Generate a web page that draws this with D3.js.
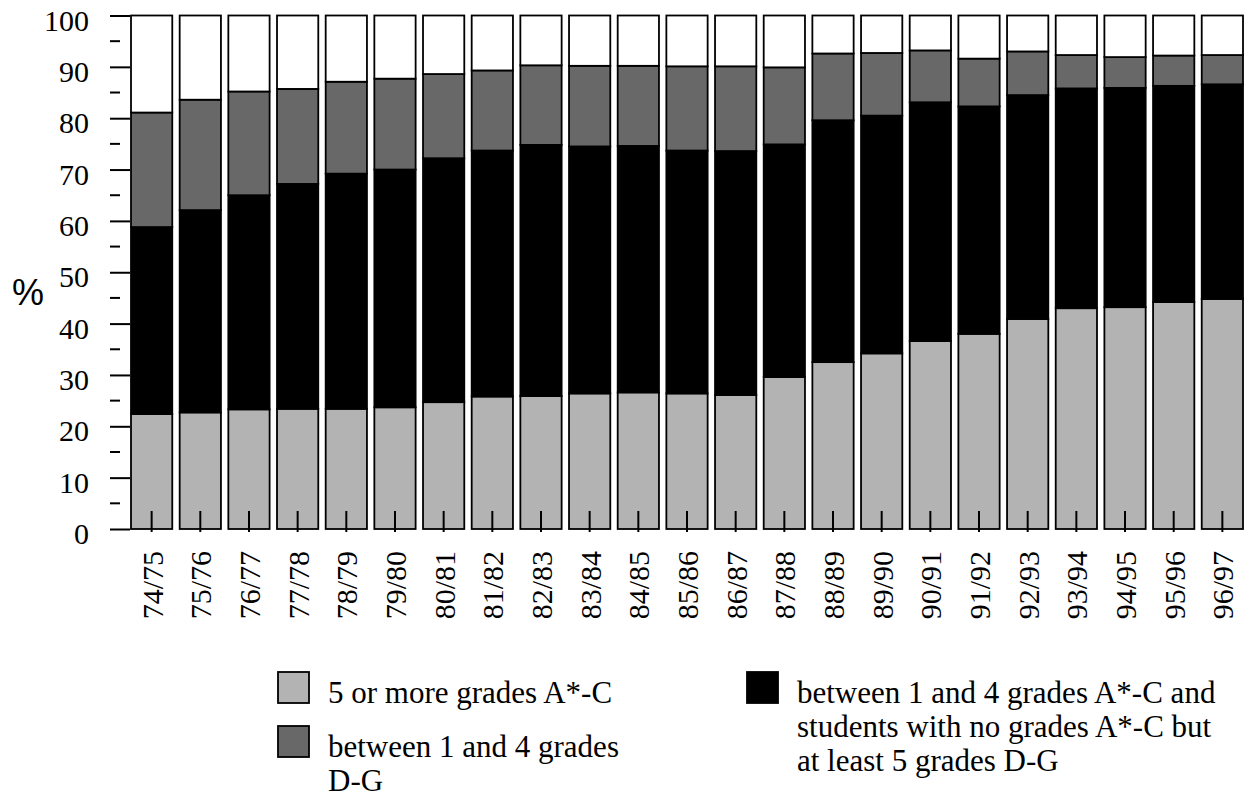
<!DOCTYPE html>
<html>
<head>
  <meta charset="utf-8">
  <script src="https://cdn.jsdelivr.net/npm/d3@7"></script>
  <style>
    @font-face {
      font-family: "ChartSerif";
      src: local("Liberation Serif"), local("LiberationSerif"), local("LiberationSerif-Regular"),
        local("Liberation Serif Regular"), local("Tinos"), local("Times New Roman");
    }
  </style>
</head>
<body style="margin:0">
  <svg id="chart" width="1247" height="797"></svg>
  <script>

  // school years
  const years = ["74/75", "75/76", "76/77", "77/78", "78/79", "79/80", "80/81", "81/82",
    "82/83", "83/84", "84/85", "85/86", "86/87", "87/88", "88/89", "89/90", "90/91",
    "91/92", "92/93", "93/94", "94/95", "95/96", "96/97"];

  // % of students (bottom to top)
  const fiveOrMoreAC = [22.4, 22.7, 23.3, 23.4, 23.4, 23.7, 24.7, 25.8, 25.9, 26.4, 26.6, 26.4,
    26.1, 29.6, 32.5, 34.2, 36.6, 38.0, 40.9, 43.0, 43.2, 44.2, 44.8];
  const oneToFourACorFiveDG = [36.4, 39.4, 41.7, 43.8, 45.8, 46.3, 47.5, 47.9, 48.9, 48.1, 48.0, 47.3,
    47.5, 45.3, 47.1, 46.3, 46.5, 44.3, 43.6, 42.8, 42.7, 42.1, 41.8];
  const oneToFourDG = [22.3, 21.5, 20.2, 18.5, 17.9, 17.7, 16.4, 15.6, 15.5, 15.7, 15.6, 16.4,
    16.5, 15.0, 13.0, 12.2, 10.1, 9.3, 8.5, 6.5, 6.0, 5.9, 5.7];
  const others = [18.9, 16.4, 14.8, 14.3, 12.9, 12.3, 11.4, 10.7, 9.7, 9.8, 9.8, 9.9,
    9.9, 10.1, 7.4, 7.3, 6.8, 8.4, 7.0, 7.7, 8.1, 7.8, 7.7];

  const keys = ["fiveAC", "mixed", "dg", "rest"];
  const colours = {fiveAC: "#b3b3b3", mixed: "#000000", dg: "#686868", rest: "#ffffff"};

  const yTicks = [0, 10, 20, 30, 40, 50, 60, 70, 80, 90, 100];
  const yMinorTicks = [5, 15, 25, 35, 45, 55, 65, 75, 85, 95];

  const legendItems = [
    {key: "fiveAC", lines: ["5 or more grades A*-C"]},
    {key: "dg", lines: ["between 1 and 4 grades", "D-G"]},
    {key: "mixed", lines: ["between 1 and 4 grades A*-C and",
      "students with no grades A*-C but", "at least 5 grades D-G"]}
  ];

  const rows = years.map((yr, i) => ({
    year: yr,
    fiveAC: fiveOrMoreAC[i],
    mixed: oneToFourACorFiveDG[i],
    dg: oneToFourDG[i],
    rest: others[i]
  }));

  const serif = () => `"Liberation Serif", ChartSerif, cursive`;

  const svg = d3.select("#chart");

  const x = d3.scaleBand().domain(years).range([131, 1243]).paddingInner(0.152).paddingOuter(0);
  const y = d3.scaleLinear().domain([0, 100]).range([529, 15.5]);

  const series = d3.stack().keys(keys)(rows);

  // bars
  svg.append("g").selectAll("g")
    .data(series)
    .join("g")
      .attr("fill", (s) => colours[s.key])
    .selectAll("rect")
    .data((s) => s)
    .join("rect")
      .attr("x", (d) => x(d.data.year))
      .attr("y", (d) => y(Math.min(d[1], 100)))
      .attr("width", x.bandwidth())
      .attr("height", (d) => y(d[0]) - y(Math.min(d[1], 100)))
      .attr("stroke", "#000")
      .attr("stroke-width", 1.8);

  // y axis ticks (labels drawn below, straight on the svg)
  const yAxis = svg.append("g")
    .attr("transform", "translate(130,0)")
    .call(d3.axisLeft(y).tickValues(yTicks).tickSize(20).tickFormat(""));
  yAxis.select(".domain").remove();
  yAxis.selectAll("line").attr("stroke-width", 2);

  svg.selectAll("text.ylab")
    .data(yTicks)
    .join("text")
      .attr("class", "ylab")
      .attr("x", 89)
      .attr("y", (d) => y(d) + 15)
      .attr("text-anchor", "end")
      .style("font-family", serif)
      .style("font-size", "30px")
      .text((d) => d);

  svg.append("g").selectAll("line")
    .data(yMinorTicks)
    .join("line")
      .attr("x1", 110).attr("x2", 120)
      .attr("y1", (d) => y(d)).attr("y2", (d) => y(d))
      .attr("stroke", "#000")
      .attr("stroke-width", 2);

  // x axis ticks reach up into the bars
  const xAxis = svg.append("g")
    .attr("transform", `translate(0,${y(0) + 3})`)
    .call(d3.axisBottom(x).tickSize(-21).tickSizeOuter(0).tickFormat(""));
  xAxis.select(".domain").remove();
  xAxis.selectAll("line").attr("stroke-width", 2);

  svg.selectAll("text.xlab")
    .data(years)
    .join("text")
      .attr("class", "xlab")
      .attr("transform", (d) => `translate(${x(d) + x.bandwidth() / 2 + 11},551) rotate(-90)`)
      .attr("text-anchor", "end")
      .style("font-family", serif)
      .style("font-size", "30px")
      .text((d) => d);

  svg.append("text")
    .attr("x", 12)
    .attr("y", 305)
    .style("font-family", () => `"Liberation Sans", cursive`)
    .style("font-size", "36px")
    .text("%");

  // legend
  const legendPos = [
    {x: 278, y: 672},
    {x: 278, y: 726},
    {x: 747, y: 672}
  ];
  svg.selectAll("rect.key")
    .data(legendItems)
    .join("rect")
      .attr("class", "key")
      .attr("x", (d, i) => legendPos[i].x)
      .attr("y", (d, i) => legendPos[i].y)
      .attr("width", 31).attr("height", 31)
      .attr("fill", (d) => colours[d.key])
      .attr("stroke", "#000")
      .attr("stroke-width", 1.8);

  const legendLines = legendItems.flatMap((d, i) =>
    d.lines.map((t, j) => ({text: t, x: legendPos[i].x + 50, y: legendPos[i].y + 31 + j * 34})));
  svg.selectAll("text.keylab")
    .data(legendLines)
    .join("text")
      .attr("class", "keylab")
      .attr("x", (d) => d.x)
      .attr("y", (d) => d.y)
      .style("font-family", serif)
      .style("font-size", "31px")
      .text((d) => d.text);
  </script>
</body>
</html>
